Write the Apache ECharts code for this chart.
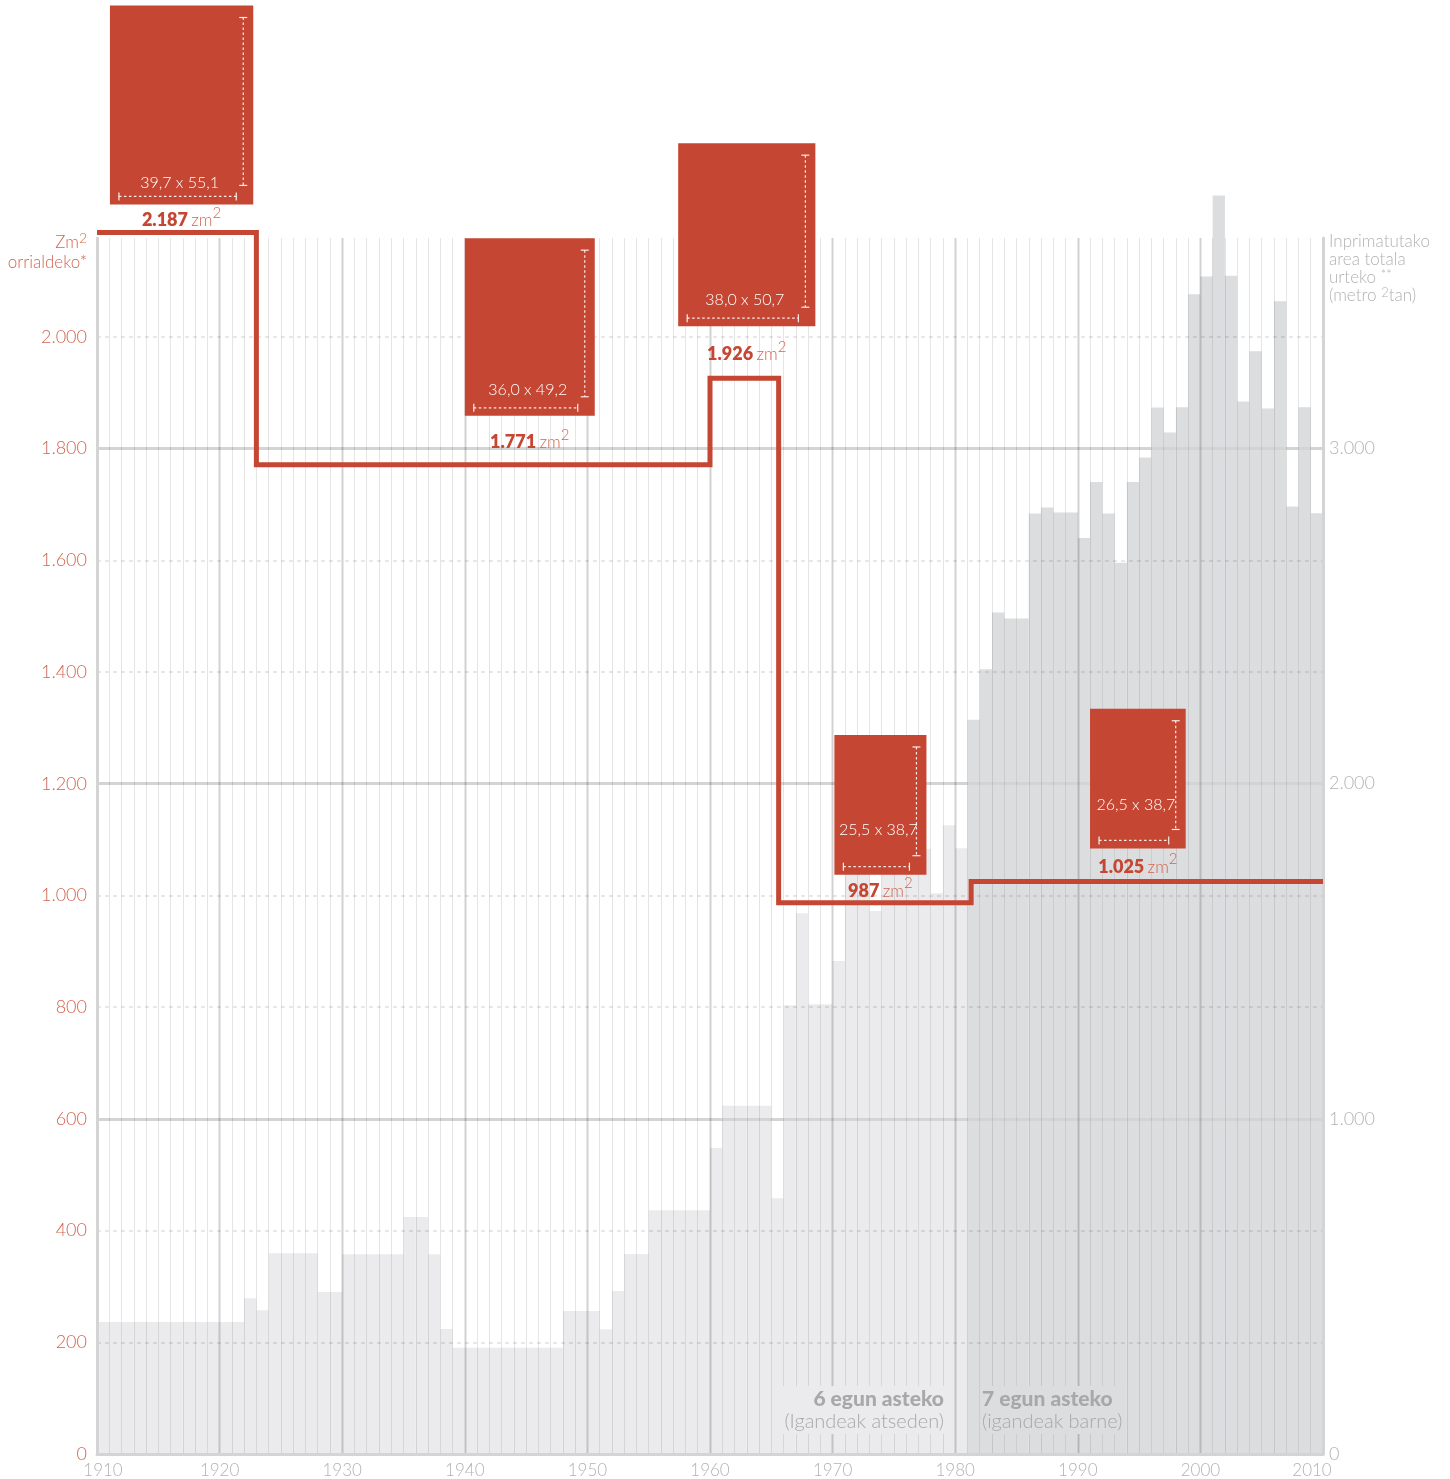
<!DOCTYPE html>
<html>
<head>
<meta charset="utf-8">
<script src="https://cdn.jsdelivr.net/npm/echarts@6/dist/echarts.min.js"></script>
<style>
html,body{margin:0;padding:0;background:#fff;}
#chart{width:1450px;height:1479px;}
</style>
</head>
<body>
<div id="chart"></div>
<script>
// ---------- DATA ----------
// categories: one per year, 1910..2009
const firstYear = 1910, lastYear = 2009;
const years = [];
for (let y = firstYear; y <= lastYear; y++) years.push(String(y));

// Total printed area per year (m2), right axis
const printedArea = [
  394,394,394,394,394,394,394,394,394,394,394,394, // 1910-1921
  465,429,                                         // 1922-1923
  599,599,599,599,                                 // 1924-1927
  483,483,                                         // 1928-1929
  596,596,596,596,596,                             // 1930-1934
  707,707,596,373,                                 // 1935-1938
  317,317,317,317,317,317,317,317,317,             // 1939-1947
  427,427,427,372,486,597,597,                     // 1948-1954
  727,727,727,727,727,                             // 1955-1959
  913,1039,1039,1039,1039,763,                     // 1960-1965
  1339,1613,1342,1342,1471,                        // 1966-1970
  1760,1760,1620,1790,1790,1806,1806,1673,1876,1807, // 1971-1980
  2191,2341,2511,2493,2493,2806,2824,2809,2809,    // 1981-1989
  2733,2900,2806,2659,2900,2973,3122,3048,3123,3460, // 1990-1999
  3513,3755,3515,3140,3290,3119,3439,2827,3123,2807  // 2000-2009
];
const sevenDayStartYear = 1981;

// Page area (cm2 per page) by format period
const formatStartYears = [1910, 1923, 1960, 1965.6, 1981.3];
const formatEndYear = 2010;
const pageAreas = [2187, 1771, 1926, 987, 1025];
const pageWidthsCm = [39.7, 36.0, 38.0, 25.5, 26.5];
const pageHeightsCm = [55.1, 49.2, 50.7, 38.7, 38.7];

// axis ticks
const leftTicks = [0, 200, 400, 600, 800, 1000, 1200, 1400, 1600, 1800, 2000];
const rightTicks = [0, 1000, 2000, 3000];
const yearTicks = [1910, 1920, 1930, 1940, 1950, 1960, 1970, 1980, 1990, 2000, 2010];

// ---------- LAYOUT (annotation placement, not data) ----------
const boxCenterYears = [1916.9, 1945.3, 1963.0, 1973.9, 1994.9];
const boxLift = [28, 49, 52, 28, 33];
const dimTextUp = [22, 26, 26, 45, 44];
const PX_PER_CM = 3.61;

// ---------- STYLE ----------
const RED = '#c54632';
const RED_LIGHT = '#d2654f';
const GREY_TXT = '#b2b2b2';
const FONT = 'Lato, "Open Sans", sans-serif';

function thousands(v) {
  return String(Math.round(v)).replace(/\B(?=(\d{3})+(?!\d))/g, '.');
}
function comma1(v) { return v.toFixed(1).replace('.', ','); }

const barData = printedArea.map((v, i) => ({
  value: v,
  itemStyle: { color: (firstYear + i) >= sevenDayStartYear ? '#dcdddf' : '#ebebed' }
}));

const stepData = [];
pageAreas.forEach((a, i) => {
  const s = formatStartYears[i];
  const e = i < pageAreas.length - 1 ? formatStartYears[i + 1] : formatEndYear;
  stepData.push([s, a], [e, a]);
});

const boxData = pageAreas.map((a, i) => [boxCenterYears[i], a, pageWidthsCm[i], pageHeightsCm[i]]);

function renderBox(params, api) {
  const i = params.dataIndex;
  const p = api.coord([api.value(0), api.value(1)]);
  const w = api.value(2) * PX_PER_CM, h = api.value(3) * PX_PER_CM;
  const cx = p[0];
  const lineY = p[1];
  const bottom = lineY - boxLift[i];
  const left = cx - w / 2, right = cx + w / 2, top = bottom - h;
  const dash = { stroke: '#fff', lineWidth: 1.2, lineDash: [2.5, 2.5], opacity: 0.9 };
  const solid = { stroke: '#fff', lineWidth: 1.2, opacity: 0.9 };
  const vx = right - 10, vy1 = top + 12, vy2 = bottom - 19;
  const hy = bottom - 8, hx1 = left + 9, hx2 = right - 17;
  return {
    type: 'group',
    children: [
      { type: 'rect', shape: { x: left, y: top, width: w, height: h }, style: { fill: RED } },
      { type: 'line', shape: { x1: vx, y1: vy1, x2: vx, y2: vy2 }, style: dash },
      { type: 'line', shape: { x1: vx - 4, y1: vy1, x2: vx + 4, y2: vy1 }, style: solid },
      { type: 'line', shape: { x1: vx - 4, y1: vy2, x2: vx + 4, y2: vy2 }, style: solid },
      { type: 'line', shape: { x1: hx1, y1: hy, x2: hx2, y2: hy }, style: dash },
      { type: 'line', shape: { x1: hx1, y1: hy - 4, x2: hx1, y2: hy + 4 }, style: solid },
      { type: 'line', shape: { x1: hx2, y1: hy - 4, x2: hx2, y2: hy + 4 }, style: solid },
      { type: 'text', style: {
          x: cx - 2, y: bottom - dimTextUp[i],
          text: comma1(api.value(2)) + ' x ' + comma1(api.value(3)),
          fill: '#fff', font: '300 16px ' + FONT, align: 'center', verticalAlign: 'middle'
      } },
      { type: 'text', style: {
          x: cx, y: (bottom + lineY) / 2 - 1,
          text: '{n|' + thousands(api.value(1)) + '} {u|zm}{s|2}',
          align: 'center', verticalAlign: 'middle',
          rich: {
            n: { font: '800 18px ' + FONT, fill: RED, lineHeight: 24, verticalAlign: 'bottom' },
            u: { font: '300 17px ' + FONT, fill: RED_LIGHT, lineHeight: 24, verticalAlign: 'bottom' },
            s: { font: '300 15px ' + FONT, fill: RED_LIGHT, lineHeight: 16, verticalAlign: 'top' }
          }
      } }
    ]
  };
}

const chart = echarts.init(document.getElementById('chart'), null, { renderer: 'canvas' });

const option = {
  animation: false,
  backgroundColor: '#fff',
  textStyle: { fontFamily: FONT },
  grid: { left: 97, right: 127, top: 238, bottom: 25, containLabel: false },
  xAxis: [
    {
      type: 'category', data: years, boundaryGap: true, position: 'bottom', z: 3,
      axisLine: { show: true, lineStyle: { color: '#d4d4d4', width: 3 } },
      axisTick: { show: false }, axisLabel: { show: false },
      splitLine: { show: true, interval: 0, lineStyle: { color: 'rgba(0,0,0,0.10)', width: 1 } }
    },
    {
      type: 'value', min: yearTicks[0], max: yearTicks[yearTicks.length - 1], interval: 10,
      position: 'bottom', z: 3,
      axisLine: { show: false }, axisTick: { show: false },
      axisLabel: {
        margin: 8, color: GREY_TXT, fontSize: 17, fontWeight: 300, fontFamily: FONT,
        formatter: v => v === yearTicks[0] ? '{f|' + v + '}' : (v === yearTicks[yearTicks.length - 1] ? '{l|' + v + '}' : String(v)),
        rich: {
          f: { padding: [0, 0, 0, 12], color: GREY_TXT, fontSize: 17, fontWeight: 300, fontFamily: FONT },
          l: { padding: [0, 22, 0, 0], color: GREY_TXT, fontSize: 17, fontWeight: 300, fontFamily: FONT }
        }
      },
      splitLine: { show: true, showMinLine: false, showMaxLine: false, lineStyle: { color: 'rgba(0,0,0,0.085)', width: 3 } }
    }
  ],
  yAxis: [
    {
      type: 'value', min: 0, max: 2177, interval: 200, position: 'left', z: 3,
      axisLine: { show: true, lineStyle: { color: '#d4d4d4', width: 3 } },
      axisTick: { show: false },
      axisLabel: { showMaxLabel: false, margin: 10, color: RED_LIGHT, fontSize: 18, fontWeight: 300, fontFamily: FONT,
        formatter: v => leftTicks.indexOf(v) >= 0 ? thousands(v) : '' },
      splitLine: { show: true, showMinLine: false, showMaxLine: false,
        lineStyle: { color: 'rgba(0,0,0,0.12)', width: 1.5, type: [4, 4] } }
    },
    {
      type: 'value', min: 0, max: 3628, interval: 1000, position: 'right', z: 3,
      axisLine: { show: true, lineStyle: { color: '#d4d4d4', width: 3 } },
      axisTick: { show: false },
      axisLabel: { showMaxLabel: false, margin: 6, color: GREY_TXT, fontSize: 18, fontWeight: 300, fontFamily: FONT,
        formatter: v => rightTicks.indexOf(v) >= 0 ? thousands(v) : '' },
      splitLine: { show: true, showMinLine: false, showMaxLine: false,
        lineStyle: { color: '#d4d4d5', width: 3 } }
    }
  ],
  series: [
    {
      name: 'Inprimatutako area', type: 'bar', xAxisIndex: 0, yAxisIndex: 1,
      data: barData, barCategoryGap: '0%', barGap: '0%', clip: false, z: 2,
      silent: true
    },
    {
      name: 'Zm2 orrialdeko', type: 'line', xAxisIndex: 1, yAxisIndex: 0,
      data: stepData, symbol: 'none', clip: false, z: 5, silent: true,
      lineStyle: { color: RED, width: 5, join: 'miter', cap: 'butt' }
    },
    {
      name: 'Orrialde neurria', type: 'custom', xAxisIndex: 1, yAxisIndex: 0,
      data: boxData, renderItem: renderBox, clip: false, z: 6, silent: true
    }
  ],
  graphic: [
    { type: 'text', z: 10, style: {
        x: 87, y: 231, align: 'right', verticalAlign: 'top',
        text: '{a|Zm}{s|2}\n{a|orrialdeko*}',
        rich: {
          a: { font: '300 17px ' + FONT, fill: RED_LIGHT, lineHeight: 20, verticalAlign: 'bottom' },
          s: { font: '300 14px ' + FONT, fill: RED_LIGHT, lineHeight: 15, verticalAlign: 'top' }
        }
    } },
    { type: 'text', z: 10, style: {
        x: 1329, y: 232, align: 'left', verticalAlign: 'top',
        text: '{a|Inprimatutako}\n{a|area totala}\n{a|urteko }{s|**}\n{a|(metro }{s|2}{a|tan)}',
        rich: {
          a: { font: '300 17px ' + FONT, fill: GREY_TXT, lineHeight: 18, verticalAlign: 'bottom' },
          s: { font: '300 13px ' + FONT, fill: GREY_TXT, lineHeight: 12, verticalAlign: 'top' }
        }
    } },
    { type: 'text', z: 10, style: {
        x: 946, y: 1386, align: 'right', verticalAlign: 'top',
        text: '{b|6 egun asteko}\n{l|(Igandeak atseden)}',
        backgroundColor: '#ebebed', padding: [2, 2, 2, 4],
        rich: {
          b: { font: '900 21px ' + FONT, fill: '#a8a8aa', lineHeight: 23, align: 'right' },
          l: { font: '300 20px ' + FONT, fill: '#a8a8aa', lineHeight: 21, align: 'right' }
        }
    } },
    { type: 'text', z: 10, style: {
        x: 980, y: 1386, align: 'left', verticalAlign: 'top',
        text: '{b|7 egun asteko}\n{l|(igandeak barne)}',
        backgroundColor: '#dcdddf', padding: [2, 4, 2, 2],
        rich: {
          b: { font: '900 21px ' + FONT, fill: '#a8a8aa', lineHeight: 23 },
          l: { font: '300 20px ' + FONT, fill: '#a8a8aa', lineHeight: 21 }
        }
    } }
  ]
};

chart.setOption(option);
</script>
</body>
</html>
